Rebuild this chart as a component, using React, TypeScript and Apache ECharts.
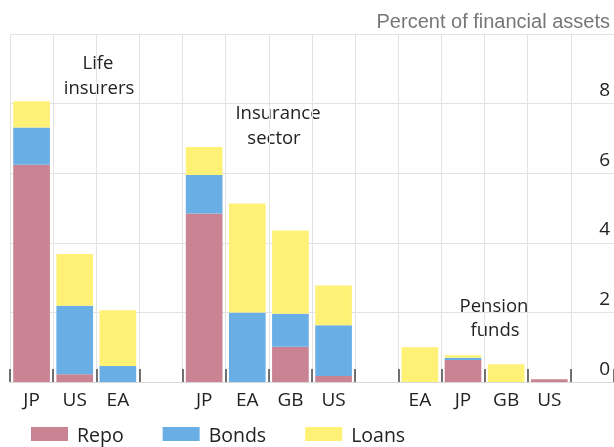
import React, { useEffect, useRef } from "react";
import * as echarts from "echarts";

const categoryIds = ["L-JP", "L-US", "L-EA", "gap1", "I-JP", "I-EA", "I-GB", "I-US", "gap2", "P-EA", "P-JP", "P-GB", "P-US", "gap3"];
const categoryLabels = ["JP", "US", "EA", "", "JP", "EA", "GB", "US", "", "EA", "JP", "GB", "US", ""];
const repo = [6.24, 0.22, 0, null, 4.84, 0, 1.01, 0.17, null, 0, 0.63, 0, 0.08, null];
const bonds = [1.07, 1.97, 0.46, null, 1.11, 2.0, 0.95, 1.46, null, 0, 0.07, 0, 0, null];
const loans = [0.76, 1.49, 1.6, null, 0.8, 3.13, 2.39, 1.14, null, 1.0, 0.07, 0.51, 0, null];
const yTicks = [0, 2, 4, 6, 8];

const FONT = "'Open Sans', 'Noto Sans', sans-serif";
const COLORS = { repo: "#C98393", bonds: "#6AAEE6", loans: "#FFF176" };

export default function App() {
  const ref = useRef<HTMLDivElement>(null);
  useEffect(() => {
    if (!ref.current) return;
    const chart = echarts.init(ref.current, undefined, { renderer: "svg" });
    const mk = (name: string, data: (number | null)[], color: string) => ({
      name,
      type: "bar",
      stack: "total",
      data,
      barCategoryGap: "15%",
      itemStyle: { color },
      emphasis: { disabled: true },
    });
    const annot = (text: string, x: number, y: number) => ({
      type: "text",
      x,
      y,
      style: {
        text,
        fontFamily: FONT,
        fontSize: 18.5,
        lineHeight: 19,
        fill: "#222",
        textAlign: "center",
        textVerticalAlign: "middle",
      },
    });
    chart.setOption({
      animation: false,
      textStyle: { fontFamily: FONT },
      grid: { left: 10, top: 34, width: 607.6, height: 348, containLabel: false },
      legend: {
        left: 31,
        top: 424,
        padding: 0,
        itemWidth: 37,
        itemHeight: 14,
        itemGap: 39,
        icon: "rect",
        textStyle: { fontFamily: FONT, fontSize: 19.5, color: "#222", padding: [0, 0, 0, 4] },
        data: ["Repo", "Bonds", "Loans"],
        selectedMode: false,
      },
      xAxis: {
        type: "category",
        data: categoryIds,
        axisLine: { show: true, lineStyle: { color: "#d9d9d9", width: 1 } },
        axisTick: { show: true, inside: true, length: 13, lineStyle: { color: "#444", width: 1.5 } },
        splitLine: { show: true, lineStyle: { color: "#e3e3e3", width: 1 } },
        axisLabel: {
          margin: 7,
          fontSize: 19,
          color: "#222",
          fontFamily: FONT,
          interval: 0,
          formatter: (_v: string, i: number) => categoryLabels[i],
        },
      },
      yAxis: {
        type: "value",
        position: "right",
        min: 0,
        max: 10,
        interval: 2,
        axisLine: { show: false },
        axisTick: { show: false },
        splitLine: { show: true, lineStyle: { color: "#e3e3e3", width: 1 } },
        axisLabel: {
          inside: true,
          margin: 4,
          fontSize: 19,
          color: "#222",
          fontFamily: FONT,
          verticalAlign: "bottom",
          padding: [0, 0, 5, 0],
          formatter: (v: number) => (yTicks.indexOf(v) >= 0 ? String(v) : ""),
        },
      },
      graphic: [
        {
          type: "text",
          x: 610,
          y: 21,
          style: {
            text: "Percent of financial assets",
            fontFamily: "'Liberation Sans', Arial, sans-serif",
            fontSize: 20,
            fill: "#777",
            textAlign: "right",
            textVerticalAlign: "middle",
          },
        },
        annot("Life", 98, 61),
        annot("insurers", 99, 86),
        annot("Insurance", 278, 111),
        annot("sector", 274, 136),
        annot("Pension", 494, 304),
        annot("funds", 495, 328),
      ],
      series: [mk("Repo", repo, COLORS.repo), mk("Bonds", bonds, COLORS.bonds), mk("Loans", loans, COLORS.loans)],
    });
    return () => chart.dispose();
  }, []);
  return <div ref={ref} style={{ position: "fixed", left: 0, top: 0, width: 614, height: 447 }} />;
}
